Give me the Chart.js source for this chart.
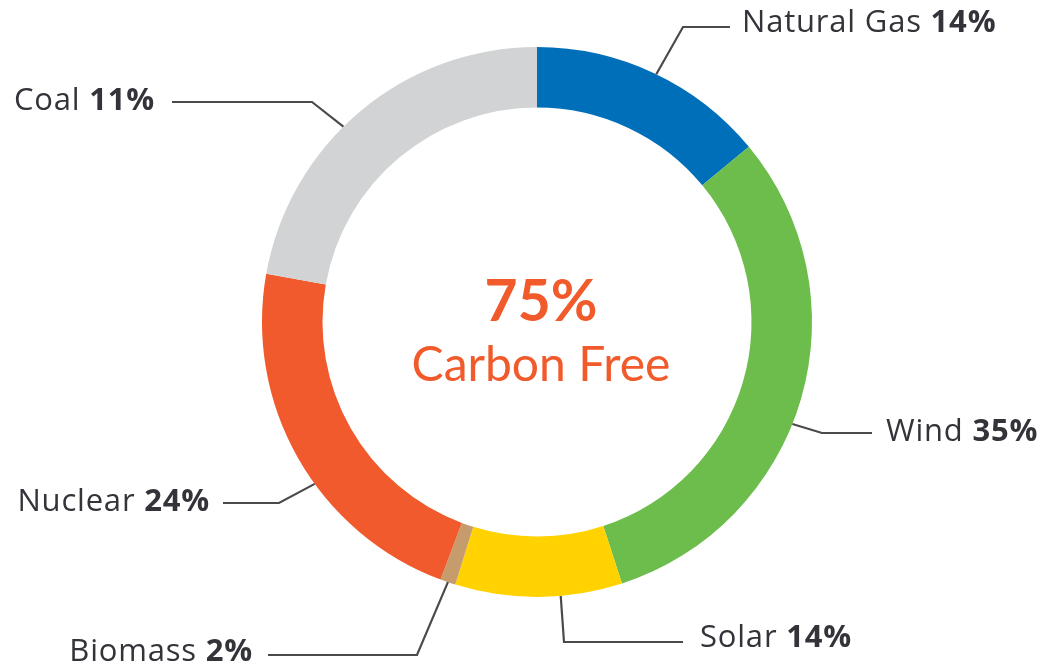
<!DOCTYPE html>
<html>
<head>
<meta charset="utf-8">
<script src="https://cdn.jsdelivr.net/npm/chart.js@4.4.1/dist/chart.umd.min.js"></script>
<style>
  html, body { margin: 0; padding: 0; background: #fff; }
  #wrap { width: 1051px; height: 667px; }
</style>
</head>
<body>
<div id="wrap"><canvas id="mix" width="1051" height="667"></canvas></div>
<script>
const sources = ['Natural Gas', 'Wind', 'Solar', 'Biomass', 'Nuclear', 'Coal'];
const shareLabels = ['14%', '35%', '14%', '2%', '24%', '11%'];
// slice sizes as they are drawn in the picture (not the printed labels)
const sliceSizes = [14.0, 31.0, 9.8, 0.9, 22.1, 22.2];
const sliceColors = ['#006fba', '#6cbd4b', '#ffd200', '#c69c6d', '#f05a2c', '#d1d3d4'];
const centerBig = '75%';
const centerSmall = 'Carbon Free';

// callout layout: where along the slice the leader starts (0..1),
// elbow of the leader, end of the leader, text anchor
const callouts = [
    { at: 0.51, elbow: [683, 27], end: [730, 27], text: [742, 23], align: 'left' },
    { at: 0.55, elbow: [822, 433], end: [872, 433], text: [886, 432], align: 'left' },
    { at: 0.37, elbow: [564, 642], end: [683, 642], text: [700, 638], align: 'left' },
    { at: 0.5, elbow: [417, 655], end: [268, 655], text: [253, 652], align: 'right' },
    { at: 0.42, elbow: [279, 503], end: [223, 503], text: [210, 502], align: 'right' },
    { at: 0.44, elbow: [312, 102], end: [172, 102], text: [155, 101], align: 'right' }
];

const labelFont = '"Open Sans", "Noto Sans", sans-serif';
const labelSize = 31;

const calloutPlugin = {
    id: 'callouts',
    afterDraw(chart) {
        const ctx = chart.ctx;
        const arcs = chart.getDatasetMeta(0).data;
        ctx.save();

        arcs.forEach((arc, i) => {
            const p = arc.getProps(['x', 'y', 'startAngle', 'endAngle', 'outerRadius'], true);
            const c = callouts[i];
            const ang = p.startAngle + (p.endAngle - p.startAngle) * c.at;
            const ax = p.x + Math.cos(ang) * p.outerRadius;
            const ay = p.y + Math.sin(ang) * p.outerRadius;

            ctx.strokeStyle = '#4a4a4a';
            ctx.lineWidth = 2.2;
            ctx.beginPath();
            ctx.moveTo(ax, ay);
            ctx.lineTo(c.elbow[0], c.elbow[1]);
            ctx.lineTo(c.end[0], c.end[1]);
            ctx.stroke();

            // name regular, share bold
            ctx.fillStyle = '#33333a';
            ctx.textBaseline = 'middle';
            ctx.textAlign = 'left';
            ctx.letterSpacing = '0.8px';
            const nameTxt = sources[i] + ' ';
            ctx.font = `400 ${labelSize}px ${labelFont}`;
            const wName = ctx.measureText(nameTxt).width;
            ctx.font = `700 ${labelSize}px ${labelFont}`;
            const wPct = ctx.measureText(shareLabels[i]).width;
            const x = c.align === 'left' ? c.text[0] : c.text[0] - wName - wPct;
            ctx.font = `400 ${labelSize}px ${labelFont}`;
            ctx.fillText(nameTxt, x, c.text[1]);
            ctx.font = `700 ${labelSize}px ${labelFont}`;
            ctx.fillText(shareLabels[i], x + wName, c.text[1]);
        });

        // centre text
        const cx = arcs[0].x;
        ctx.letterSpacing = '0px';
        ctx.fillStyle = '#f15a2b';
        ctx.textAlign = 'center';
        ctx.textBaseline = 'middle';
        ctx.font = '700 57px Lato, sans-serif';
        ctx.fillText(centerBig, cx + 4, 303);
        ctx.font = '400 48px Lato, sans-serif';
        ctx.fillText(centerSmall, cx + 4, 366);

        ctx.restore();
    }
};

new Chart(document.getElementById('mix'), {
    type: 'doughnut',
    data: {
        labels: sources,
        datasets: [{
            data: sliceSizes,
            backgroundColor: sliceColors,
            borderWidth: 0,
            hoverOffset: 0,
            offset: 0
        }]
    },
    options: {
        responsive: false,
        animation: false,
        devicePixelRatio: 1,
        cutout: '78%',
        events: [],
        layout: { padding: { left: 23, right: 0, top: 47, bottom: 70 } },
        plugins: {
            legend: { display: false },
            tooltip: { enabled: false }
        }
    },
    plugins: [calloutPlugin]
});
</script>
</body>
</html>
